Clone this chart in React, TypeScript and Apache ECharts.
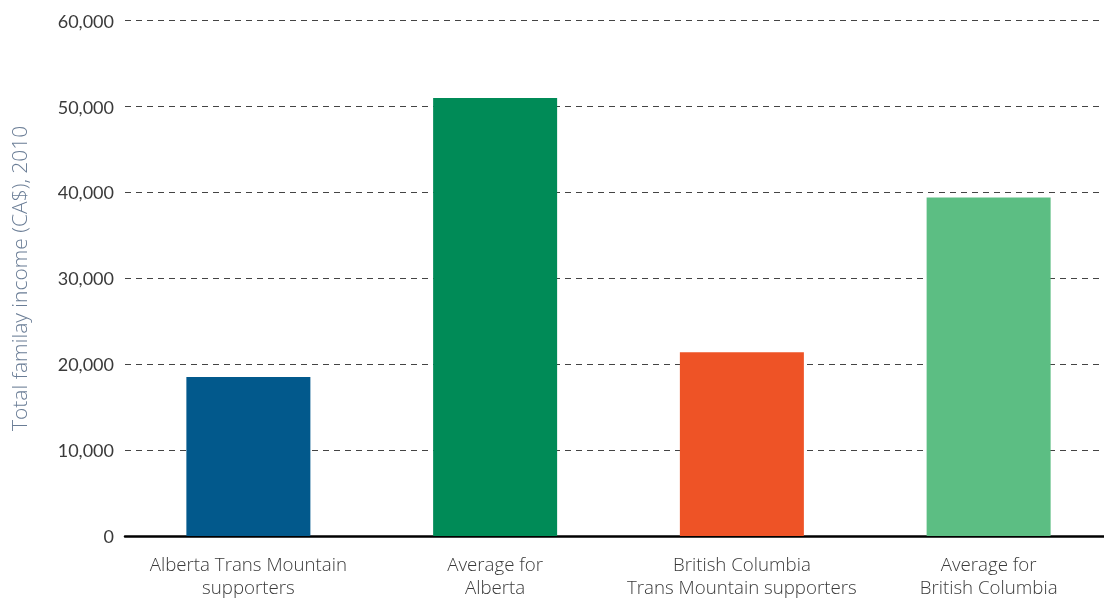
import React, { useEffect, useRef } from "react";
import * as echarts from "echarts";

const categories = [
  "Alberta Trans Mountain\nsupporters",
  "Average for\nAlberta",
  "British Columbia\nTrans Mountain supporters",
  "Average for\nBritish Columbia",
];
const incomeValues = [18500, 51000, 21400, 39400];
const barColors = ["#02598c", "#008b57", "#ee5326", "#5cbe83"];
const yTicks = { min: 0, max: 60000, interval: 10000 };
const yAxisTitle = "Total familay income (CA$), 2010";

export default function App() {
  const ref = useRef<HTMLDivElement>(null);
  useEffect(() => {
    if (!ref.current) return;
    const chart = echarts.init(ref.current, undefined, { renderer: "svg" });
    const font = "Open Sans";
    chart.setOption({
      animation: false,
      grid: { left: 124, right: 0, top: 20.7, bottom: 61.3, containLabel: false },
      xAxis: {
        type: "category",
        data: categories,
        axisLine: { show: true, lineStyle: { color: "#000", width: 2.5 } },
        axisTick: { show: false },
        axisLabel: {
          color: "#3a3a3a",
          fontFamily: font,
          fontWeight: 300,
          fontSize: 18.7,
          lineHeight: 23,
          margin: 16,
          interval: 0,
        },
      },
      yAxis: {
        type: "value",
        min: yTicks.min,
        max: yTicks.max,
        interval: yTicks.interval,
        name: yAxisTitle,
        nameLocation: "middle",
        nameGap: 96,
        nameTextStyle: {
          color: "#6a7d96",
          fontFamily: font,
          fontWeight: 300,
          fontSize: 21,
        },
        axisLine: { show: false },
        axisTick: { show: false },
        axisLabel: {
          color: "#3a3a3a",
          fontFamily: "Lato",
          fontSize: 18,
          margin: 11,
          formatter: (v: number) => v.toLocaleString("en-US"),
        },
        splitLine: {
          show: true,
          lineStyle: { color: "#444", type: [6, 5], width: 1 },
        },
      },
      series: [
        {
          type: "bar",
          barWidth: 124,
          data: incomeValues.map((v, i) => ({
            value: v,
            itemStyle: { color: barColors[i] },
          })),
        },
      ],
    });
    return () => chart.dispose();
  }, []);
  return (
    <div
      style={{
        position: "fixed",
        left: 0,
        top: 0,
        width: 1104,
        height: 598,
        overflow: "hidden",
      }}
    >
      <div ref={ref} style={{ width: 1112, height: 598 }} />
    </div>
  );
}
